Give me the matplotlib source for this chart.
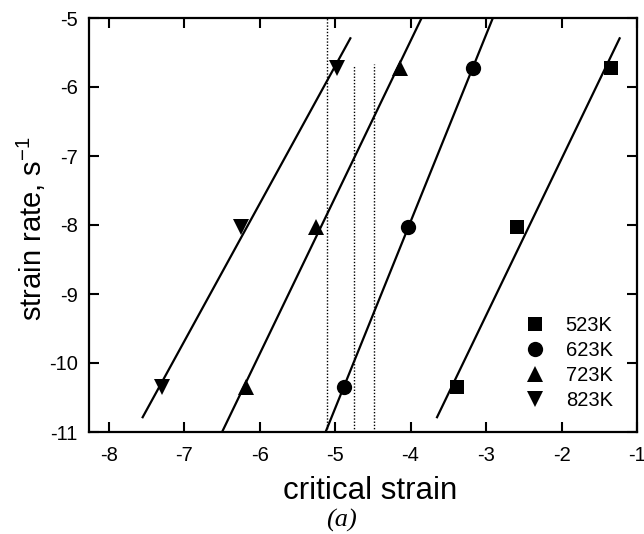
import numpy as np
import matplotlib
matplotlib.use("Agg")
import matplotlib.pyplot as plt

plt.rcParams['font.family'] = ['Liberation Sans', 'DejaVu Sans']

# Measured points: critical strain (ln) vs strain rate (ln) for each temperature
temps = ["523K", "623K", "723K", "823K"]
rate = [-5.72, -8.03, -10.35]
strain_523 = [-1.34, -2.59, -3.38]
strain_623 = [-3.17, -4.04, -4.88]
strain_723 = [-4.14, -5.25, -6.18]
strain_823 = [-4.97, -6.25, -7.29]

# vertical reference levels of critical strain
ref_strain = [-5.11, -4.75, -4.48]
ref_top = [-5.0, -5.68, -5.66]

series = [strain_523, strain_623, strain_723, strain_823]
markers = ["s", "o", "^", "v"]
msizes = [10, 11, 11.5, 11.5]
# span of each fitted line in strain-rate units
fit_span = [(-10.8, -5.28), (-11.3, -4.7), (-11.3, -4.7), (-10.8, -5.28)]

fig = plt.figure(figsize=(6.44, 5.34), dpi=100)
ax = fig.add_axes([89 / 644, 1 - 432 / 534, (637 - 89) / 644, (432 - 18) / 534])

for xs, m, ms, lab, (y0, y1) in zip(series, markers, msizes, temps, fit_span):
    a, b = np.polyfit(rate, xs, 1)
    yy = np.array([y0, y1])
    ax.plot(a * yy + b, yy, color="black", lw=1.6, solid_capstyle="butt")
    ax.plot(xs, rate, linestyle="none", marker=m, ms=ms, color="black",
            markeredgewidth=0, label=lab)

for xr, yt in zip(ref_strain, ref_top):
    ax.plot([xr, xr], [-11, yt], color="black", lw=1.0, linestyle=(0, (1, 1.3)))

ax.set_xlim(-8.26, -1.0)
ax.set_ylim(-11, -5)
ax.set_xticks([-8, -7, -6, -5, -4, -3, -2, -1])
ax.set_yticks([-11, -10, -9, -8, -7, -6, -5])
ax.set_xticklabels(["-8", "-7", "-6", "-5", "-4", "-3", "-2", "-1"])
ax.set_yticklabels(["-11", "-10", "-9", "-8", "-7", "-6", "-5"])
ax.tick_params(direction="in", length=7, width=1.5, top=True, right=True,
               labelsize=14.5)
ax.tick_params(axis="x", pad=10)
ax.tick_params(axis="y", pad=8)
for s in ax.spines.values():
    s.set_linewidth(1.6)

ax.set_xlabel("critical strain", fontsize=22.5)
ax.xaxis.set_label_coords((370 - 89) / (637 - 89), -(499 - 432) / (432 - 18))
ax.xaxis.label.set_va("baseline")
ax.set_ylabel("strain rate, s$^{\\mathregular{-1}}$", fontsize=21)
ax.yaxis.set_label_coords(-(89 - 48) / (637 - 89), 0.49)

ax.legend(loc="lower right", frameon=False, fontsize=14.5, handletextpad=0.9,
          labelspacing=0.3, borderaxespad=1.0, handlelength=1.2,
          bbox_to_anchor=(1.007, -0.016))

fig.text(341 / 644, 1 - 520 / 534, "(a)", ha="center", va="center",
         fontsize=19, family=["Liberation Serif"], style="italic")

fig.savefig("out.png", dpi=100)
